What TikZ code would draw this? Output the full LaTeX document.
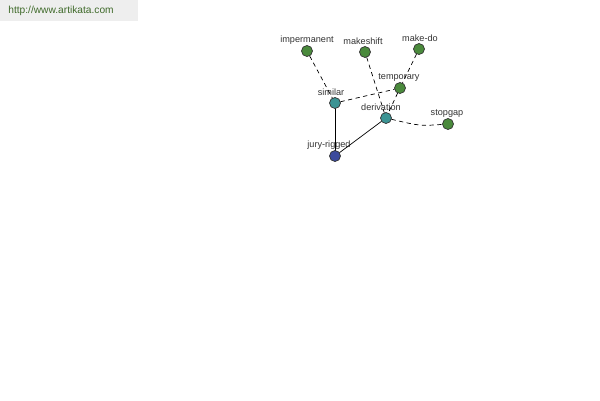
\documentclass[tikz,border=0pt]{standalone}
\usepackage{fontspec}
\setmainfont{Liberation Sans}
\usetikzlibrary{positioning}
\definecolor{leafgreen}{HTML}{4A8A3C}
\definecolor{hubteal}{HTML}{3C9494}
\definecolor{rootblue}{HTML}{3C4A9C}
\definecolor{bannergray}{HTML}{EEEEEE}
\definecolor{bannertext}{HTML}{3F6A2A}

\begin{document}
\begin{tikzpicture}[x=0.02cm, y=-0.02cm, line cap=round, line join=round,
	font=\fontsize{5.2}{6}\selectfont,
	word/.style={circle, draw=black!80, line width=0.4pt, minimum size=0.22cm, inner sep=0pt},
	leaf/.style={word, fill=leafgreen},
	hub/.style={word, fill=hubteal},
	root/.style={word, fill=rootblue},
	wlabel/.style={text=black!80, inner sep=0pt},
	link/.style={line width=0.4pt},
	weak/.style={line width=0.4pt, dash pattern=on 2.2pt off 2.2pt}]
%========================
% page frame
%========================
\useasboundingbox (0,0) rectangle (600,400);
\fill[white] (0,0) rectangle (600,400);
\fill[bannergray] (0,0) rectangle (138,21);
\node[anchor=west, text=bannertext, inner sep=0pt, font=\fontsize{5.8}{7}\selectfont] (site) at (8,11) {http://www.artikata.com};

%========================
% word nodes
%========================
\node[leaf] (impermanent) at (307,51) {};
\node[leaf] (makeshift) at (365,52) {};
\node[leaf] (makedo) at (419,49) {};
\node[leaf] (temporary) at (400,88) {};
\node[hub] (similar) at (335,103) {};
\node[hub] (derivation) at (386,118) {};
\node[leaf] (stopgap) at (448,124) {};
\node[root] (juryrigged) at (335,156) {};

% labels
\node[wlabel] (limpermanent) at (307,40) {impermanent};
\node[wlabel] (lmakeshift) at (363,41) {makeshift};
\node[wlabel] (lmakedo) at (420,38) {make-do};
\node[wlabel] (ltemporary) at (399,77) {temporary};
\node[wlabel] (lsimilar) at (331,92) {similar};
\node[wlabel] (lderivation) at (381,107) {derivation};
\node[wlabel] (lstopgap) at (447,113) {stopgap};
\node[wlabel] (ljuryrigged) at (329,145) {jury-rigged};

%========================
% connectors
%========================
\draw[weak] (impermanent) -- (similar);
\draw[weak] (makeshift) -- (derivation);
\draw[weak] (makedo) -- (temporary);
\draw[weak] (temporary) -- (derivation);
\draw[weak] (similar) -- (temporary);
\draw[weak] (derivation) .. controls (420,126) .. (stopgap);
\draw[link] (similar) -- (juryrigged);
\draw[link] (derivation) -- (juryrigged);
\end{tikzpicture}
\end{document}
